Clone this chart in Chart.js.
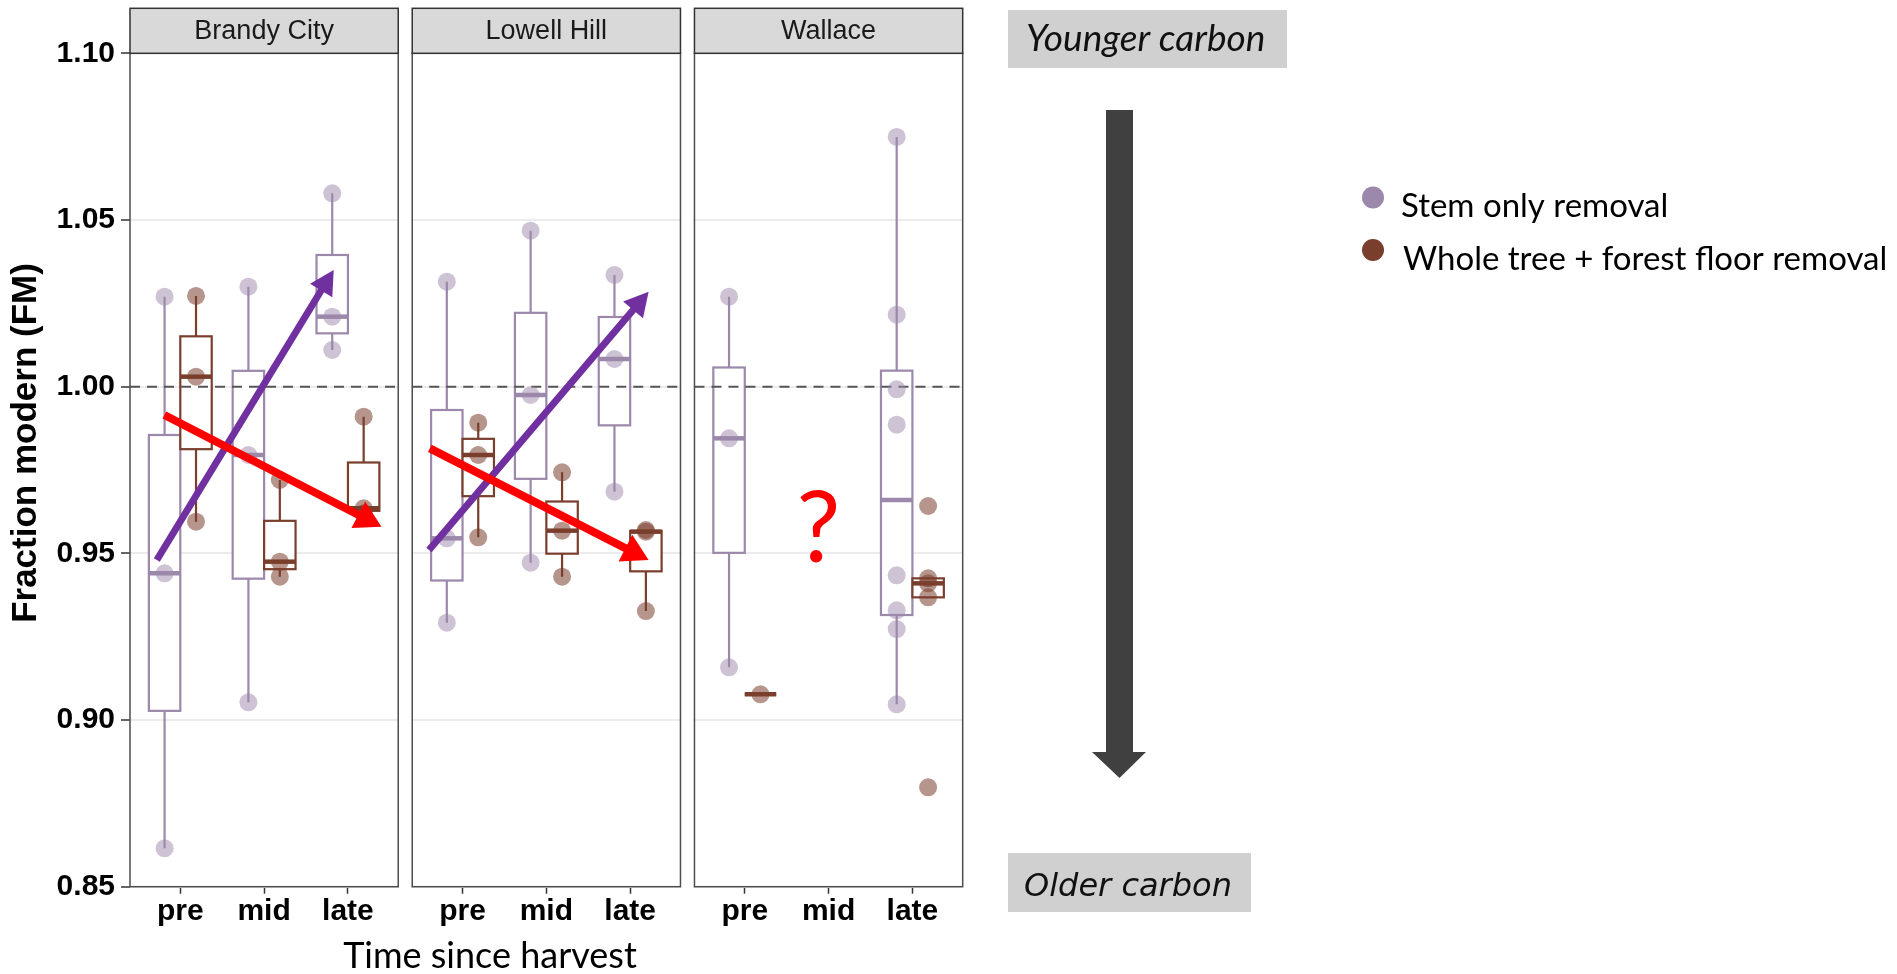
<!DOCTYPE html>
<html>
<head>
<meta charset="utf-8">
<title>Fraction modern by time since harvest</title>
<script src="https://cdn.jsdelivr.net/npm/chart.js@4.4.1/dist/chart.umd.min.js"></script>
<style>
  html, body { margin: 0; padding: 0; background: #fff; }
  #wrap { position: relative; width: 1897px; height: 974px; }
</style>
</head>
<body>
<div id="wrap"><canvas id="fmChart"></canvas></div>
<script>
// facets, categories, series
const sites = ['Brandy City', 'Lowell Hill', 'Wallace'];
const times = ['pre', 'mid', 'late'];
const treatments = ['Stem only removal', 'Whole tree + forest floor removal'];
const treatmentColors = ['#9C88AA', '#7A3E2D'];
const pointColors = ['rgba(156,136,170,0.5)', 'rgba(122,62,45,0.55)'];

// fraction modern per site -> time (pre, mid, late)
const stemOnlyFM = [
  [[1.027, 0.944, 0.8615], [1.030, 0.9795, 0.9053], [1.058, 1.021, 1.011]],
  [[1.0315, 0.9545, 0.9292], [1.0468, 0.9975, 0.9472], [1.0335, 1.0083, 0.9685]],
  [[1.027, 0.9845, 0.9158], [], [1.0749, 1.0216, 0.9992, 0.9886, 0.9434, 0.9329, 0.9273, 0.9047]]
];
const wholeTreeFM = [
  [[1.0272, 1.003, 0.9595], [0.972, 0.9475, 0.943], [0.991, 0.9635, 0.962]],
  [[0.9892, 0.9795, 0.9548], [0.9743, 0.9568, 0.943], [0.957, 0.9565, 0.9327]],
  [[0.9077], [], [0.9642, 0.9425, 0.941, 0.9368, 0.8798]]
];
const seriesFM = [stemOnlyFM, wholeTreeFM];

const yTicks = [0.85, 0.90, 0.95, 1.00, 1.05, 1.10];
const referenceFM = 1.00;

// hand drawn trend arrows: site, from (time pos, FM), to (time pos, FM)
const arrowSite = [0, 0, 1, 1];
const arrowFrom = [[0.72, 0.948], [0.81, 0.9915], [0.60, 0.951], [0.61, 0.9815]];
const arrowTo = [[2.83, 1.035], [3.40, 0.958], [3.22, 1.0285], [3.22, 0.948]];
const arrowColor = ['#7030A0', '#FF0000', '#7030A0', '#FF0000'];

// facet layout in x units (1 = pre, 2 = mid, 3 = late)
const PANEL_SPAN = 3.2;
const PANEL_GAP = 0.167;
const DODGE = 0.1875;
const BOX_W = 0.375;

function panelX(site, t) {
  return site * (PANEL_SPAN + PANEL_GAP) + t;
}

function quantile(sorted, p) {
  const h = (sorted.length - 1) * p;
  const lo = Math.floor(h), hi = Math.ceil(h);
  return sorted[lo] + (h - lo) * (sorted[hi] - sorted[lo]);
}

function boxStats(values) {
  const s = [...values].sort((a, b) => a - b);
  const q1 = quantile(s, 0.25), med = quantile(s, 0.5), q3 = quantile(s, 0.75);
  const iqr = q3 - q1;
  const inside = s.filter(v => v >= q1 - 1.5 * iqr && v <= q3 + 1.5 * iqr);
  return { lo: Math.min(q1, ...inside), q1, med, q3, hi: Math.max(q3, ...inside) };
}

const datasets = treatments.map((name, k) => ({
  label: name,
  data: seriesFM[k].flatMap((site, si) => site.flatMap((vals, ti) =>
    vals.map(v => ({ x: panelX(si, ti + 1) + (k === 0 ? -DODGE : DODGE), y: v })))),
  backgroundColor: pointColors[k],
  borderWidth: 0,
  pointRadius: 9,
  pointHoverRadius: 9
}));

const facetPlugin = {
  id: 'facets',
  beforeDatasetsDraw(chart) {
    const { ctx, chartArea: a, scales: { x, y } } = chart;
    ctx.save();
    // blank the gaps between panels
    ctx.fillStyle = '#fff';
    for (let s = 0; s < sites.length - 1; s++) {
      const l = x.getPixelForValue(panelX(s, 3.6));
      const r = x.getPixelForValue(panelX(s + 1, 0.4));
      ctx.fillRect(l + 1, a.top - 2, r - l - 2, a.bottom - a.top + 4);
    }
    // boxplots
    sites.forEach((site, si) => times.forEach((t, ti) => seriesFM.forEach((ser, k) => {
      const vals = ser[si][ti];
      if (!vals.length) return;
      const b = boxStats(vals);
      const c = panelX(si, ti + 1) + (k === 0 ? -DODGE : DODGE);
      const xl = x.getPixelForValue(c - BOX_W / 2), xr = x.getPixelForValue(c + BOX_W / 2);
      const xc = x.getPixelForValue(c);
      ctx.strokeStyle = treatmentColors[k];
      ctx.lineWidth = 2.2;
      ctx.beginPath();
      ctx.moveTo(xc, y.getPixelForValue(b.q3)); ctx.lineTo(xc, y.getPixelForValue(b.hi));
      ctx.moveTo(xc, y.getPixelForValue(b.q1)); ctx.lineTo(xc, y.getPixelForValue(b.lo));
      ctx.stroke();
      const yt = y.getPixelForValue(b.q3), yb = y.getPixelForValue(b.q1);
      ctx.fillStyle = '#fff';
      ctx.fillRect(xl, yt, xr - xl, yb - yt);
      ctx.strokeRect(xl, yt, xr - xl, yb - yt);
      ctx.lineWidth = 4.5;
      ctx.beginPath();
      ctx.moveTo(xl, y.getPixelForValue(b.med)); ctx.lineTo(xr, y.getPixelForValue(b.med));
      ctx.stroke();
    })));
    // dashed reference line at FM = 1
    ctx.strokeStyle = '#555';
    ctx.lineWidth = 2;
    ctx.setLineDash([10, 7]);
    const yr = y.getPixelForValue(referenceFM);
    sites.forEach((s, si) => {
      ctx.beginPath();
      ctx.moveTo(x.getPixelForValue(panelX(si, 0.4)), yr);
      ctx.lineTo(x.getPixelForValue(panelX(si, 3.6)), yr);
      ctx.stroke();
    });
    ctx.restore();
  },
  afterDatasetsDraw(chart) {
    const { ctx, scales: { x, y } } = chart;
    ctx.save();
    arrowSite.forEach((si, i) => {
      const x0 = x.getPixelForValue(panelX(si, arrowFrom[i][0])), y0 = y.getPixelForValue(arrowFrom[i][1]);
      const x1 = x.getPixelForValue(panelX(si, arrowTo[i][0])), y1 = y.getPixelForValue(arrowTo[i][1]);
      const red = arrowColor[i] === '#FF0000';
      const len = Math.hypot(x1 - x0, y1 - y0);
      const ux = (x1 - x0) / len, uy = (y1 - y0) / len;
      const head = red ? 26 : 24, half = red ? 15 : 13;
      const bx = x1 - ux * head, by = y1 - uy * head;
      ctx.strokeStyle = arrowColor[i];
      ctx.fillStyle = arrowColor[i];
      ctx.lineWidth = red ? 8 : 7;
      ctx.beginPath();
      ctx.moveTo(x0, y0); ctx.lineTo(bx + ux * 2, by + uy * 2);
      ctx.stroke();
      ctx.beginPath();
      ctx.moveTo(x1, y1);
      ctx.lineTo(bx - uy * half, by + ux * half);
      ctx.lineTo(bx + uy * half, by - ux * half);
      ctx.closePath();
      ctx.fill();
    });
    // no mid sample at Wallace
    ctx.fillStyle = '#FF0000';
    ctx.font = '98px Lato, sans-serif';
    ctx.textAlign = 'center';
    ctx.textBaseline = 'alphabetic';
    ctx.fillText('?', x.getPixelForValue(panelX(2, 1.88)), y.getPixelForValue(0.9475));
    ctx.restore();
  },
  afterDraw(chart) {
    const { ctx, chartArea: a, scales: { x } } = chart;
    ctx.save();
    // panel borders and strips
    sites.forEach((site, si) => {
      const l = x.getPixelForValue(panelX(si, 0.4)), r = x.getPixelForValue(panelX(si, 3.6));
      ctx.strokeStyle = '#4D4D4D';
      ctx.lineWidth = 1.5;
      ctx.strokeRect(l, a.top, r - l, a.bottom - a.top);
      ctx.fillStyle = '#D9D9D9';
      ctx.fillRect(l, a.top - 45, r - l, 45);
      ctx.strokeStyle = '#333';
      ctx.strokeRect(l, a.top - 45, r - l, 45);
      ctx.fillStyle = '#1A1A1A';
      ctx.font = '27px "Liberation Sans", Arial, sans-serif';
      ctx.textAlign = 'center';
      ctx.textBaseline = 'middle';
      ctx.fillText(site, (l + r) / 2, a.top - 22);
    });
    // axis titles
    ctx.fillStyle = '#000';
    ctx.save();
    ctx.translate(26, 443);
    ctx.rotate(-Math.PI / 2);
    ctx.font = 'bold 35px "Liberation Sans", Arial, sans-serif';
    ctx.textAlign = 'center';
    ctx.textBaseline = 'middle';
    ctx.fillText('Fraction modern (FM)', 0, 0);
    ctx.restore();
    ctx.font = '36px Lato, sans-serif';
    ctx.textAlign = 'center';
    ctx.textBaseline = 'alphabetic';
    ctx.fillText('Time since harvest', 490, 968, 297);

    // younger / older carbon guide
    ctx.fillStyle = '#D0D0D0';
    ctx.fillRect(1008, 10, 279, 58);
    ctx.fillRect(1008, 853, 243, 59);
    ctx.fillStyle = '#111';
    ctx.textAlign = 'left';
    ctx.font = 'italic 37px Lato, sans-serif';
    ctx.fillText('Younger carbon', 1026, 51, 244);
    ctx.font = 'italic 32px "DejaVu Sans", sans-serif';
    ctx.fillText('Older carbon', 1024, 896, 209);
    ctx.fillStyle = '#404040';
    ctx.fillRect(1106, 110, 27, 643);
    ctx.beginPath();
    ctx.moveTo(1092, 752); ctx.lineTo(1146, 752); ctx.lineTo(1119.5, 778);
    ctx.closePath();
    ctx.fill();

    // legend
    ctx.font = '33px Lato, sans-serif';
    treatments.forEach((name, k) => {
      const cy = 197.5 + k * 52.5;
      ctx.fillStyle = treatmentColors[k];
      ctx.beginPath();
      ctx.arc(1373, cy, 11, 0, Math.PI * 2);
      ctx.fill();
      ctx.fillStyle = '#000';
      ctx.fillText(name, 1401 + k * 2, cy + 19.5, k === 0 ? 272 : 487);
    });
    ctx.restore();
  }
};

const tickFont = { family: '"Liberation Sans", Arial, sans-serif', size: 30, weight: 'bold' };

new Chart(document.getElementById('fmChart'), {
  type: 'scatter',
  data: { datasets },
  options: {
    responsive: true,
    maintainAspectRatio: false,
    animation: false,
    layout: { padding: { top: 53.3, right: 934.3, left: 0, bottom: 0 } },
    plugins: { legend: { display: false }, tooltip: { enabled: false } },
    scales: {
      x: {
        type: 'linear',
        min: 0.4,
        max: panelX(sites.length - 1, 3.6),
        afterBuildTicks: axis => {
          axis.ticks = sites.flatMap((s, si) => times.map((t, ti) => ({ value: panelX(si, ti + 1) })));
        },
        afterFit: axis => { axis.height = 87.3; },
        ticks: {
          callback: (v, i) => times[i % times.length],
          font: tickFont,
          color: '#000',
          padding: 0,
          autoSkip: false,
          maxRotation: 0
        },
        grid: { drawOnChartArea: false, tickLength: 7, tickColor: '#333', tickWidth: 1.5 },
        border: { display: false }
      },
      y: {
        min: yTicks[0],
        max: yTicks[yTicks.length - 1],
        afterBuildTicks: axis => { axis.ticks = yTicks.map(v => ({ value: v })); },
        afterFit: axis => { axis.width = 130; },
        ticks: {
          callback: v => v.toFixed(2),
          font: tickFont,
          color: '#000',
          padding: 6
        },
        grid: { color: '#EBEBEB', lineWidth: 2, tickLength: 9, tickColor: '#333', tickWidth: 1.5 },
        border: { display: false }
      }
    }
  },
  plugins: [facetPlugin]
});
</script>
</body>
</html>
